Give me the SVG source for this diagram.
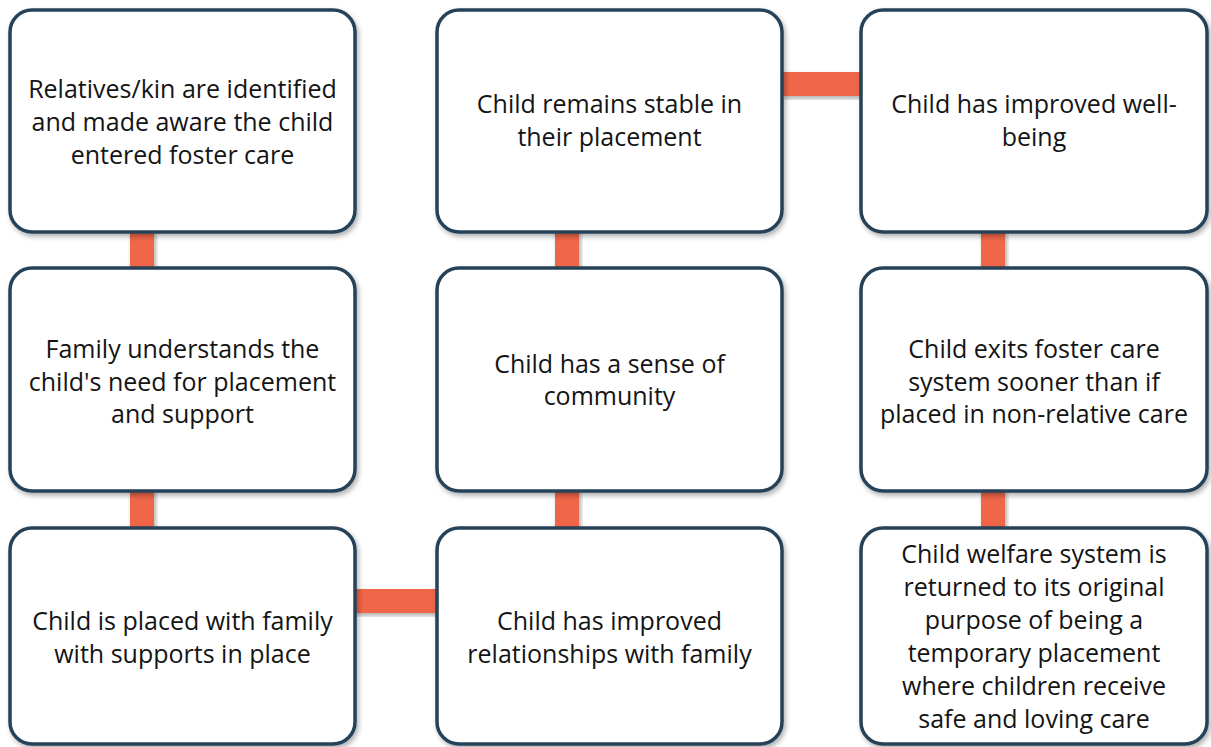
<svg xmlns="http://www.w3.org/2000/svg" width="1211" height="747" viewBox="0 0 1211 747">
<defs>
<filter id="sh" x="-10%" y="-10%" width="125%" height="125%">
<feDropShadow dx="2" dy="3" stdDeviation="2.5" flood-color="#000" flood-opacity="0.3"/>
</filter>
<style>
.box{fill:#ffffff;stroke:#264258;stroke-width:3.5;filter:url(#sh)}
.con{fill:#F0664A;filter:url(#sh)}
text{font-family:"Open Sans","Noto Sans","DejaVu Sans",sans-serif;font-size:25px;fill:#141414;text-anchor:middle}
</style>
</defs>
<rect width="1211" height="747" fill="#ffffff"/>
<g id="connectors">
<rect class="con" x="130" y="230" width="24" height="40"/>
<rect class="con" x="130" y="489" width="24" height="41"/>
<rect class="con" x="555" y="230" width="24" height="40"/>
<rect class="con" x="555" y="489" width="24" height="41"/>
<rect class="con" x="981" y="230" width="24" height="40"/>
<rect class="con" x="981" y="489" width="24" height="41"/>
<rect class="con" x="780" y="72" width="83" height="24"/>
<rect class="con" x="353" y="589" width="86" height="24"/>
</g>
<g id="n1">
<rect class="box" x="10" y="10" width="345" height="222" rx="22"/>
<text x="182.5" y="98">Relatives/kin are identified</text>
<text x="182.5" y="131">and made aware the child</text>
<text x="182.5" y="164">entered foster care</text>
</g>
<g id="n2">
<rect class="box" x="437" y="10" width="345" height="222" rx="22"/>
<text x="609.5" y="113">Child remains stable in</text>
<text x="609.5" y="146">their placement</text>
</g>
<g id="n3">
<rect class="box" x="861" y="10" width="346" height="222" rx="22"/>
<text x="1034" y="113">Child has improved well-</text>
<text x="1034" y="146">being</text>
</g>
<g id="n4">
<rect class="box" x="10" y="268" width="345" height="223" rx="22"/>
<text x="182.5" y="358">Family understands the</text>
<text x="182.5" y="391">child's need for placement</text>
<text x="182.5" y="423">and support</text>
</g>
<g id="n5">
<rect class="box" x="437" y="268" width="345" height="223" rx="22"/>
<text x="609.5" y="373">Child has a sense of</text>
<text x="609.5" y="405">community</text>
</g>
<g id="n6">
<rect class="box" x="861" y="268" width="346" height="223" rx="22"/>
<text x="1034" y="358">Child exits foster care</text>
<text x="1034" y="391">system sooner than if</text>
<text x="1034" y="423">placed in non-relative care</text>
</g>
<g id="n7">
<rect class="box" x="10" y="528" width="345" height="216" rx="22"/>
<text x="182.5" y="630">Child is placed with family</text>
<text x="182.5" y="663">with supports in place</text>
</g>
<g id="n8">
<rect class="box" x="437" y="528" width="345" height="216" rx="22"/>
<text x="609.5" y="630">Child has improved</text>
<text x="609.5" y="663">relationships with family</text>
</g>
<g id="n9">
<rect class="box" x="861" y="528" width="346" height="216" rx="22"/>
<text x="1034" y="563">Child welfare system is</text>
<text x="1034" y="596">returned to its original</text>
<text x="1034" y="629">purpose of being a</text>
<text x="1034" y="662">temporary placement</text>
<text x="1034" y="695">where children receive</text>
<text x="1034" y="728">safe and loving care</text>
</g>
</svg>
